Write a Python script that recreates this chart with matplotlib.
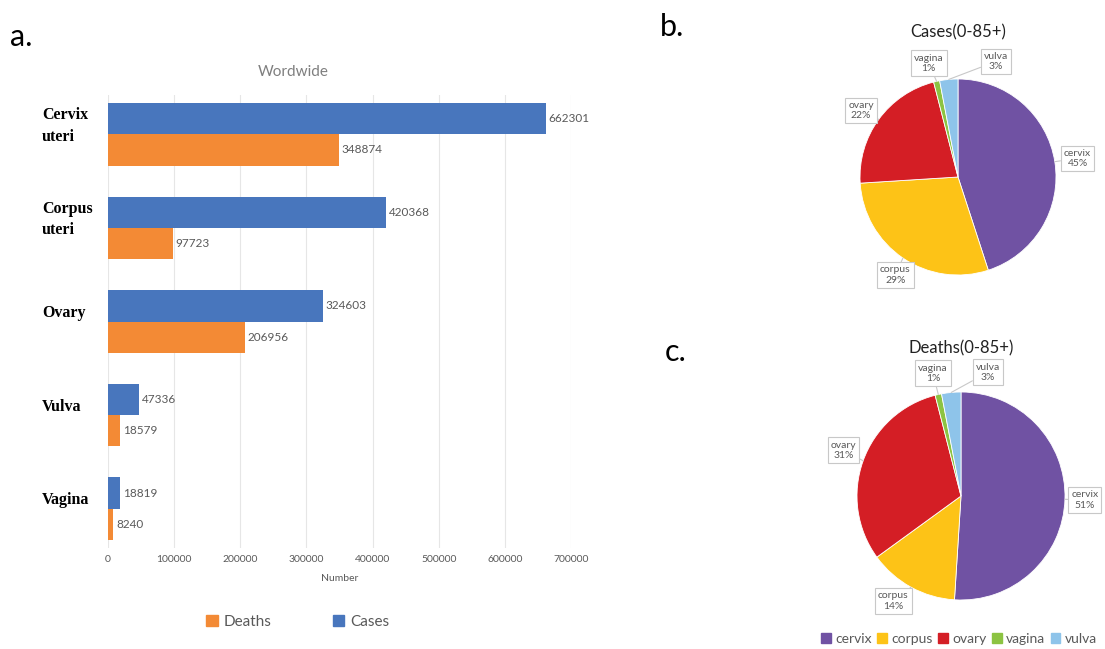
import matplotlib
matplotlib.use("Agg")
import matplotlib.pyplot as plt
import matplotlib.transforms as mtransforms
from matplotlib.patches import Patch
import numpy as np

# ------------------------------
# Data
# ------------------------------
sites = ["Cervix\nuteri", "Corpus\nuteri", "Ovary", "Vulva", "Vagina"]
cases = [662301, 420368, 324603, 47336, 18819]
deaths = [348874, 97723, 206956, 18579, 8240]

pie_labels = ["cervix", "corpus", "ovary", "vagina", "vulva"]
cases_pct = [45, 29, 22, 1, 3]
deaths_pct = [51, 14, 31, 1, 3]

x_ticks = [0, 100000, 200000, 300000, 400000, 500000, 600000, 700000]

# ------------------------------
# Styling
# ------------------------------
BLUE = "#4876BD"
ORANGE = "#F38A35"
PIE_COLORS = ["#7052A3", "#FDC317", "#D41E25", "#8CC342", "#8EC4EA"]
GRAY = "#595959"
SANS = ["Lato", "DejaVu Sans"]

plt.rcParams["font.family"] = SANS

W, H = 1105, 649
fig = plt.figure(figsize=(W / 100, H / 100), dpi=100)


def px_axes(x0, y0, x1, y1):
    """Axes from pixel box (top-left origin)."""
    return fig.add_axes([x0 / W, 1 - y1 / H, (x1 - x0) / W, (y1 - y0) / H])


# ------------------------------
# a. horizontal bar chart
# ------------------------------
ax = px_axes(108, 95, 571, 548)
y = np.arange(len(sites))
bh = 0.335
ax.barh(y - bh / 2, cases, height=bh, color=BLUE, zorder=2)
ax.barh(y + bh / 2, deaths, height=bh, color=ORANGE, zorder=2)

for yi, c, d in zip(y, cases, deaths):
    ax.text(c + 4000, yi - bh / 2, f"{c}", va="center", ha="left",
            fontsize=8.5, color=GRAY)
    ax.text(d + 4000, yi + bh / 2, f"{d}", va="center", ha="left",
            fontsize=8.5, color=GRAY)

ax.set_xlim(0, 700000)
ax.set_ylim(4.42, -0.42)
ax.set_xticks(x_ticks)
ax.set_xticklabels([str(t) for t in x_ticks], fontsize=7.5, color=GRAY)
ax.set_yticks([])
ax.tick_params(axis="x", length=0, pad=5)
ax.grid(axis="x", color="#e6e6e6", lw=0.8, zorder=0)
for s in ax.spines.values():
    s.set_visible(False)
ax.set_xlabel("Number", fontsize=7.5, color=GRAY, labelpad=7)

fig.text(293 / W, 1 - 72 / H, "Wordwide", ha="center", va="center",
         fontsize=11, color="#7f7f7f")

trans = mtransforms.blended_transform_factory(fig.transFigure, ax.transData)
for yi, name in zip(y, sites):
    ax.text(42 / W, yi - 0.09, name, transform=trans, ha="left", va="center",
            fontsize=11.5, fontweight="bold", family="Liberation Serif",
            linespacing=1.45, color="black")

fig.legend(handles=[Patch(color=ORANGE, label="Deaths"),
                    Patch(color=BLUE, label="Cases")],
           loc="center", bbox_to_anchor=(298 / W, 1 - 622 / H), ncol=2,
           frameon=False, fontsize=11, labelcolor=GRAY, handlelength=0.75,
           handleheight=0.75, handletextpad=0.4, columnspacing=4.0)

# ------------------------------
# b./c. pies
# ------------------------------
def draw_pie(cx, cy, r, pct, label_pos):
    half = 1.45 * r
    pax = px_axes(cx - half, cy - half, cx + half, cy + half)
    wedges, _ = pax.pie(pct, colors=PIE_COLORS, startangle=90, counterclock=False,
                        wedgeprops=dict(edgecolor="white", linewidth=0.6))
    lim = half / r
    pax.set_xlim(-lim, lim)
    pax.set_ylim(-lim, lim)
    for w, lab, p, (lx, ly) in zip(wedges, pie_labels, pct, label_pos):
        ang = np.deg2rad((w.theta1 + w.theta2) / 2)
        pax.annotate(f"{lab}\n{p}%", xy=(np.cos(ang), np.sin(ang)),
                     xytext=(lx, ly), ha="center", va="center", fontsize=7.5,
                     color=GRAY, annotation_clip=False,
                     bbox=dict(boxstyle="square,pad=0.3", fc="white",
                               ec="#c8c8c8", lw=0.8),
                     arrowprops=dict(arrowstyle="-", color="#c8c8c8", lw=0.8,
                                     shrinkA=0, shrinkB=0))
    return pax


cases_lbl_xy = [(1.22, 0.19), (-0.64, -1.0), (-0.99, 0.68), (-0.30, 1.16), (0.39, 1.18)]
deaths_lbl_xy = [(1.19, -0.04), (-0.65, -1.01), (-1.13, 0.44), (-0.27, 1.18), (0.26, 1.19)]

draw_pie(958, 177, 98, cases_pct, cases_lbl_xy)
draw_pie(961, 496, 104, deaths_pct, deaths_lbl_xy)

fig.text(958 / W, 1 - 32 / H, "Cases(0-85+)", ha="center", va="center",
         fontsize=12, color="#222222")
fig.text(961 / W, 1 - 348 / H, "Deaths(0-85+)", ha="center", va="center",
         fontsize=12, color="#222222")

fig.legend(handles=[Patch(color=c, label=l) for c, l in zip(PIE_COLORS, pie_labels)],
           loc="center", bbox_to_anchor=(959 / W, 1 - 639 / H), ncol=5,
           frameon=False, fontsize=10, labelcolor=GRAY, handlelength=0.7,
           handleheight=0.7, handletextpad=0.3, columnspacing=0.4,
           borderpad=0.1)

# panel letters
fig.text(10 / W, 1 - 37 / H, "a.", fontsize=22, va="center", ha="left")
fig.text(660 / W, 1 - 27 / H, "b.", fontsize=22, va="center", ha="left")
fig.text(665 / W, 1 - 352 / H, "c.", fontsize=22, va="center", ha="left")

fig.savefig("out.png", dpi=100, facecolor="white")
